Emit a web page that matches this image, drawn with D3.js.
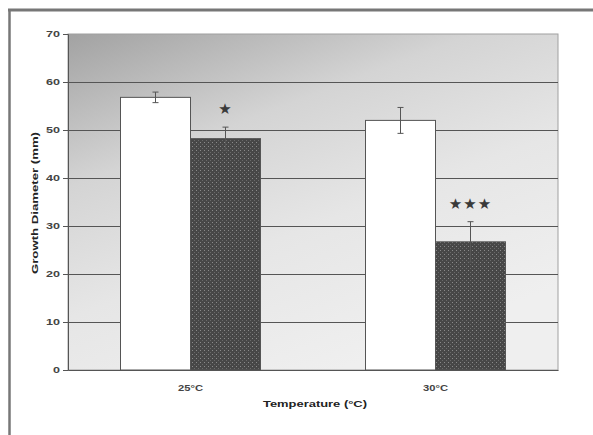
<!DOCTYPE html>
<html><head><meta charset="utf-8">
<script src="https://cdn.jsdelivr.net/npm/d3@7"></script>
<style>body{margin:0;background:#fff;} svg{display:block;font-family:"Liberation Sans",Arial,sans-serif;}</style>
</head><body><div id="chart"></div>
<script>
const categories = ["25°C", "30°C"];
const seriesNames = ["Control", "Treated"];
const controlValues = [56.8, 52.0];
const controlErrors = [1.1, 2.7];
const treatedValues = [48.2, 26.7];
const treatedErrors = [2.4, 4.2];
const significance = ["*", "***"];
const yTicks = [0, 10, 20, 30, 40, 50, 60, 70];

const W = 593, H = 435;
const m = {left: 68, top: 34, right: 35, bottom: 65};
const pw = W - m.left - m.right, ph = H - m.top - m.bottom;

const svg = d3.select("#chart").append("svg").attr("width", W).attr("height", H);
const defs = svg.append("defs");
const grad = defs.append("linearGradient").attr("id","bg").attr("x1","0").attr("y1","0").attr("x2","0.55").attr("y2","1");
grad.append("stop").attr("offset","0%").attr("stop-color","#a2a2a2");
grad.append("stop").attr("offset","35%").attr("stop-color","#d4d4d4");
grad.append("stop").attr("offset","65%").attr("stop-color","#e6e6e6");
grad.append("stop").attr("offset","100%").attr("stop-color","#efefef");
const pat = defs.append("pattern").attr("id","dots").attr("width",4).attr("height",4).attr("patternUnits","userSpaceOnUse");
pat.append("rect").attr("width",4).attr("height",4).attr("fill","#474747");
pat.append("rect").attr("x",0).attr("y",0).attr("width",1).attr("height",1).attr("fill","#8a8a8a");
pat.append("rect").attr("x",2).attr("y",2).attr("width",1).attr("height",1).attr("fill","#6a6a6a");

// outer frame
svg.append("line").attr("x1",8).attr("x2",W).attr("y1",10).attr("y2",10).attr("stroke","#777").attr("stroke-width",3);
svg.append("line").attr("x1",9.5).attr("x2",9.5).attr("y1",9).attr("y2",H).attr("stroke","#777").attr("stroke-width",2.5);

const g = svg.append("g").attr("transform",`translate(${m.left},${m.top})`);
const x = d3.scaleBand().domain(categories).range([0,pw]).paddingInner(0).paddingOuter(0);
const y = d3.scaleLinear().domain([0,70]).range([ph,0]);
const barW = x.bandwidth() * 140/245;

g.append("rect").attr("width",pw).attr("height",ph).attr("fill","url(#bg)").attr("stroke","#a0a0a0");
g.selectAll(".grid").data(yTicks.slice(1,-1)).enter().append("line")
 .attr("x1",0).attr("x2",pw).attr("y1",d=>y(d)+0.5).attr("y2",d=>y(d)+0.5).attr("stroke","#555").attr("stroke-width",1);

const data = categories.map((c,i)=>({c, v:[controlValues[i],treatedValues[i]], e:[controlErrors[i],treatedErrors[i]], s:significance[i]}));
const fills = ["#ffffff","url(#dots)"];
data.forEach(d=>{
  const x0 = x(d.c) + (x.bandwidth()-barW)/2;
  d.v.forEach((v,k)=>{
    const bx = x0 + k*barW/2;
    g.append("rect").attr("x",bx).attr("y",y(v)).attr("width",barW/2).attr("height",ph-y(v))
     .attr("fill",fills[k]).attr("stroke","#555").attr("stroke-width",1);
    const cx = bx + barW/4;
    const e = d.e[k];
    g.append("line").attr("x1",cx).attr("x2",cx).attr("y1",y(v+e)).attr("y2",y(v-e)).attr("stroke","#555");
    [v+e, v-e].forEach(t=>g.append("line").attr("x1",cx-3).attr("x2",cx+3).attr("y1",y(t)).attr("y2",y(t)).attr("stroke","#555"));
  });
  const sx = x0 + barW*3/4;
  g.append("text").attr("x",sx).attr("y",y(d.v[1]+d.e[1]) - 13).attr("text-anchor","middle")
   .attr("font-family","DejaVu Sans").attr("font-size",15).attr("letter-spacing",1).attr("fill","#3a3a3a").text(d.s.replace(/\*/g,"★"));
});

const ya = g.append("g").call(d3.axisLeft(y).tickValues(yTicks).tickSize(5).tickPadding(3));
ya.select(".domain").attr("stroke","#555");
ya.selectAll(".tick line").attr("stroke","#555");
ya.selectAll("text").attr("font-size",9).attr("font-weight","bold").attr("fill","#444")
  .attr("textLength",d=>String(d).length*7).attr("lengthAdjust","spacingAndGlyphs");
const xa = g.append("g").attr("transform",`translate(0,${ph})`).call(d3.axisBottom(x).tickSize(0).tickPadding(15));
xa.select(".domain").attr("stroke","#555");
xa.selectAll("text").attr("font-size",9).attr("font-weight","bold").attr("fill","#444")
  .attr("textLength",25).attr("lengthAdjust","spacingAndGlyphs");

svg.append("text").attr("x", 315).attr("y",407).attr("text-anchor","middle").attr("font-size",9).attr("font-weight","bold").attr("fill","#222")
  .attr("textLength",104).attr("lengthAdjust","spacingAndGlyphs").text("Temperature (°C)");
svg.append("text").attr("transform","translate(38,203) rotate(-90)").attr("text-anchor","middle").attr("font-size",9).attr("font-weight","bold").attr("fill","#222")
  .attr("textLength",142).attr("lengthAdjust","spacingAndGlyphs").text("Growth Diameter (mm)");
</script></body></html>
